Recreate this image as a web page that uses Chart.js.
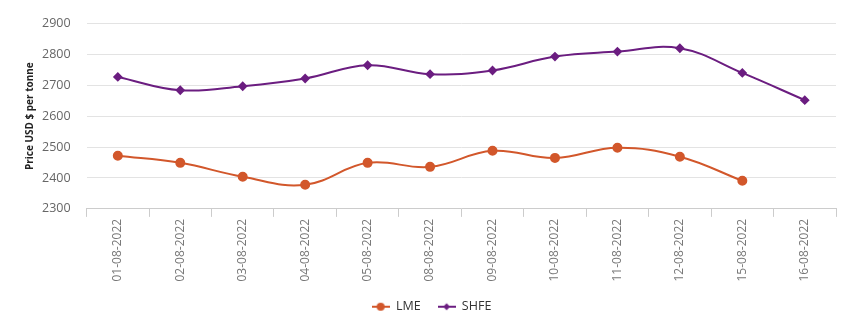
<!DOCTYPE html>
<html>
<head>
<meta charset="utf-8">
<script src="https://cdn.jsdelivr.net/npm/chart.js@4"></script>
<style>
  html, body { margin: 0; padding: 0; background: #fff; }
  .wrap { width: 843px; height: 332px; }
</style>
</head>
<body>
<div class="wrap"><canvas id="chart" width="843" height="332"></canvas></div>
<script>
// data
const dates = ['01-08-2022', '02-08-2022', '03-08-2022', '04-08-2022', '05-08-2022', '08-08-2022',
               '09-08-2022', '10-08-2022', '11-08-2022', '12-08-2022', '15-08-2022', '16-08-2022'];
const lme = [2472, 2449, 2404, 2378, 2449, 2436, 2488, 2465, 2498, 2469, 2391, null];
const shfe = [2727, 2684, 2697, 2722, 2765, 2736, 2748, 2793, 2809, 2820, 2740, 2652];
const yTicks = [2300, 2400, 2500, 2600, 2700, 2800, 2900];

const lmeColor = '#d2572b';
const shfeColor = '#6b1d80';

// legend marker: short line with the point style on it
function legendIcon(color, style) {
  const c = document.createElement('canvas');
  c.width = 18; c.height = 12;
  const g = c.getContext('2d');
  g.strokeStyle = color; g.fillStyle = color; g.lineWidth = 2;
  g.beginPath(); g.moveTo(0, 6); g.lineTo(18, 6); g.stroke();
  g.beginPath();
  if (style === 'circle') {
    g.arc(9, 6, 4, 0, Math.PI * 2);
  } else {
    g.moveTo(9, 2.5); g.lineTo(12.5, 6); g.lineTo(9, 9.5); g.lineTo(5.5, 6); g.closePath();
  }
  g.fill();
  return c;
}

new Chart(document.getElementById('chart'), {
  type: 'line',
  data: {
    labels: dates,
    datasets: [
      {
        label: 'LME',
        data: lme,
        borderColor: lmeColor,
        backgroundColor: lmeColor,
        borderWidth: 2,
        pointStyle: 'circle',
        pointRadius: 4,
        pointHoverRadius: 5,
        tension: 0.4
      },
      {
        label: 'SHFE',
        data: shfe,
        borderColor: shfeColor,
        backgroundColor: shfeColor,
        borderWidth: 2,
        pointStyle: 'rectRot',
        pointRadius: 3.5,
        pointHoverRadius: 5,
        tension: 0.4
      }
    ]
  },
  options: {
    responsive: false,
    animation: false,
    layout: { padding: { top: 16, right: 4, left: 24, bottom: 9 } },
    plugins: {
      tooltip: { enabled: false },
      legend: {
        position: 'bottom',
        labels: {
          usePointStyle: true,
          pointStyleWidth: 18,
          color: '#333',
          font: { family: 'Open Sans', size: 12.5 },
          padding: 17,
          generateLabels(chart) {
            return chart.data.datasets.map((ds, i) => ({
              text: ds.label,
              pointStyle: legendIcon(ds.borderColor, ds.pointStyle),
              fontColor: '#333',
              datasetIndex: i,
              lineWidth: 0
            }));
          }
        }
      }
    },
    scales: {
      x: {
        offset: true,
        grid: { display: true, drawOnChartArea: false, drawTicks: true, tickLength: 8, color: '#ccc', offset: true },
        border: { color: '#ccc' },
        ticks: {
          color: '#777',
          font: { family: 'Open Sans', size: 12 },
          maxRotation: 90,
          minRotation: 90,
          padding: 2
        }
      },
      y: {
        min: 2300,
        max: 2900,
        afterBuildTicks(axis) { axis.ticks = yTicks.map(v => ({ value: v })); },
        grid: { color: '#e3e3e3', drawTicks: false, tickLength: 0 },
        border: { display: false },
        ticks: {
          color: '#666',
          font: { family: 'Open Sans', size: 12.5 },
          padding: 16,
          callback: v => String(v)
        },
        title: {
          display: true,
          text: 'Price USD $ per tonne',
          color: '#222',
          font: { family: 'Open Sans', size: 10, weight: 'bold' },
          padding: { top: 0, bottom: -10 }
        }
      }
    }
  }
});
</script>
</body>
</html>
